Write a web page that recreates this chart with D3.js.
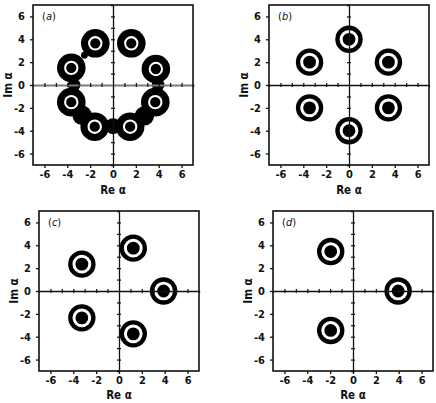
<!DOCTYPE html>
<html>
<head>
<meta charset="utf-8">
<script src="https://cdn.jsdelivr.net/npm/d3@7"></script>
<style>
  body { margin: 0; background: #fff; }
  svg { display: block; }
  text { font-family: "DejaVu Sans Condensed", "DejaVu Sans", sans-serif; fill: #111; font-weight: bold; }
</style>
</head>
<body>
<svg width="436" height="403"></svg>
<script>
// tick labels on the frame
const frameTicks = [-6, -4, -2, 0, 2, 4, 6];
const panelNames = ["a", "b", "c", "d"];

// (a) eight peaks, plus the black necks that join neighbours
const peaksA = [[-1.55, 3.65], [1.6, 3.65], [-3.65, 1.5], [3.75, 1.4],
                [-3.65, -1.5], [3.7, -1.5], [-1.6, -3.65], [1.5, -3.65]];
const necksA = [[-3.4, 0], [3.95, 0], [0, -3.6], [-2.7, -2.65],
                [2.75, -2.7], [-2.5, 2.6]];
// (b) six, (c) five, (d) three peaks
const peaksB = [[0, 4], [3.45, 2], [3.45, -2], [0, -4], [-3.45, -2], [-3.45, 2]];
const peaksC = [[3.9, 0], [1.25, 3.75], [-3.25, 2.35], [-3.25, -2.35], [1.25, -3.75]];
const peaksD = [[3.95, 0], [-1.95, 3.45], [-1.95, -3.45]];

const panels = [
  { name: panelNames[0], left: 33, top: 5, peaks: peaksA, necks: necksA, small: true, grey: true, reY: 29 },
  { name: panelNames[1], left: 269, top: 5, peaks: peaksB, necks: [], reY: 29 },
  { name: panelNames[2], left: 39, top: 211, peaks: peaksC, necks: [], reY: 28 },
  { name: panelNames[3], left: 273, top: 211, peaks: peaksD, necks: [], reY: 28 }
];

const size = 160;
const x = d3.scaleLinear().domain([-7, 7]).range([0, size]);
const y = d3.scaleLinear().domain([-7, 7]).range([size, 0]);
const k = x(1) - x(0); // pixels per unit
const fmt = d => d < 0 ? "-" + (-d) : String(d);
const minor = d3.range(-6, 7).filter(d => d !== 0);
const neckR = [0.55, 0.55, 0.7, 0.85, 0.85, 0.3];

const svg = d3.select("svg");

panels.forEach(p => {
  const g = svg.append("g").attr("transform", `translate(${p.left},${p.top})`);

  // blobs
  const outerR = p.small ? 1.25 : 1.2;
  const whiteR = p.small ? 0.54 : 0.69;
  const whiteW = p.small ? 0.18 : 0.26;

  g.selectAll(".neck").data(p.necks).enter().append("circle")
    .attr("cx", d => x(d[0])).attr("cy", d => y(d[1]))
    .attr("r", (d, i) => neckR[i] * k).attr("fill", "#000");

  g.selectAll(".outer").data(p.peaks).enter().append("circle")
    .attr("cx", d => x(d[0])).attr("cy", d => y(d[1]))
    .attr("r", outerR * k).attr("fill", "#000");

  g.selectAll(".ring").data(p.peaks).enter().append("circle")
    .attr("cx", d => x(d[0])).attr("cy", d => y(d[1]))
    .attr("r", whiteR * k).attr("fill", "#000")
    .attr("stroke", "#fff").attr("stroke-width", whiteW * k);

  // zero axes with little ticks
  const axCol = p.grey ? "#7a7a7a" : "#111";
  const hx = g.append("g").attr("transform", `translate(0,${y(0)})`)
    .call(d3.axisBottom(x).tickValues(minor).tickSize(2).tickFormat(""));
  hx.select(".domain").attr("stroke", axCol).attr("stroke-width", p.grey ? 2 : 1.3);
  hx.selectAll(".tick line").attr("y1", -2).attr("stroke", "#111").attr("stroke-width", 1.2);

  const vy = g.append("g").attr("transform", `translate(${x(0)},0)`)
    .call(d3.axisLeft(y).tickValues(minor).tickSize(2).tickFormat(""));
  vy.select(".domain").attr("stroke", "#111").attr("stroke-width", 1.3);
  vy.selectAll(".tick line").attr("x1", 2).attr("stroke", "#111").attr("stroke-width", 1.2);

  // frame axes
  const bx = g.append("g").attr("transform", `translate(0,${size})`)
    .call(d3.axisBottom(x).tickValues(frameTicks).tickSize(3).tickPadding(2).tickFormat(fmt));
  const ly = g.append("g")
    .call(d3.axisLeft(y).tickValues(frameTicks).tickSize(3).tickPadding(5).tickFormat(fmt));
  [bx, ly].forEach(a => {
    a.select(".domain").remove();
    a.selectAll(".tick line").attr("stroke", "#111").attr("stroke-width", 1.3);
    a.selectAll("text").style("font-size", "11px")
      .style("font-family", "'DejaVu Sans Condensed', sans-serif")
      .style("font-weight", "bold").attr("fill", "#111");
  });

  g.append("rect").attr("width", size).attr("height", size)
    .attr("fill", "none").attr("stroke", "#111").attr("stroke-width", 1.6);

  // labels
  const lab = g.append("text").attr("x", 9).attr("y", 15)
    .style("font-size", "11px").style("font-weight", "normal");
  lab.append("tspan").text("(");
  lab.append("tspan").style("font-style", "italic").text(p.name);
  lab.append("tspan").text(")");

  g.append("text").attr("x", size / 2).attr("y", size + p.reY)
    .attr("text-anchor", "middle").style("font-size", "11.5px").text("Re α");
  g.append("text").attr("transform", `translate(-21,${size / 2}) rotate(-90)`)
    .attr("text-anchor", "middle").style("font-size", "11.5px").text("Im α");
});
</script>
</body>
</html>
